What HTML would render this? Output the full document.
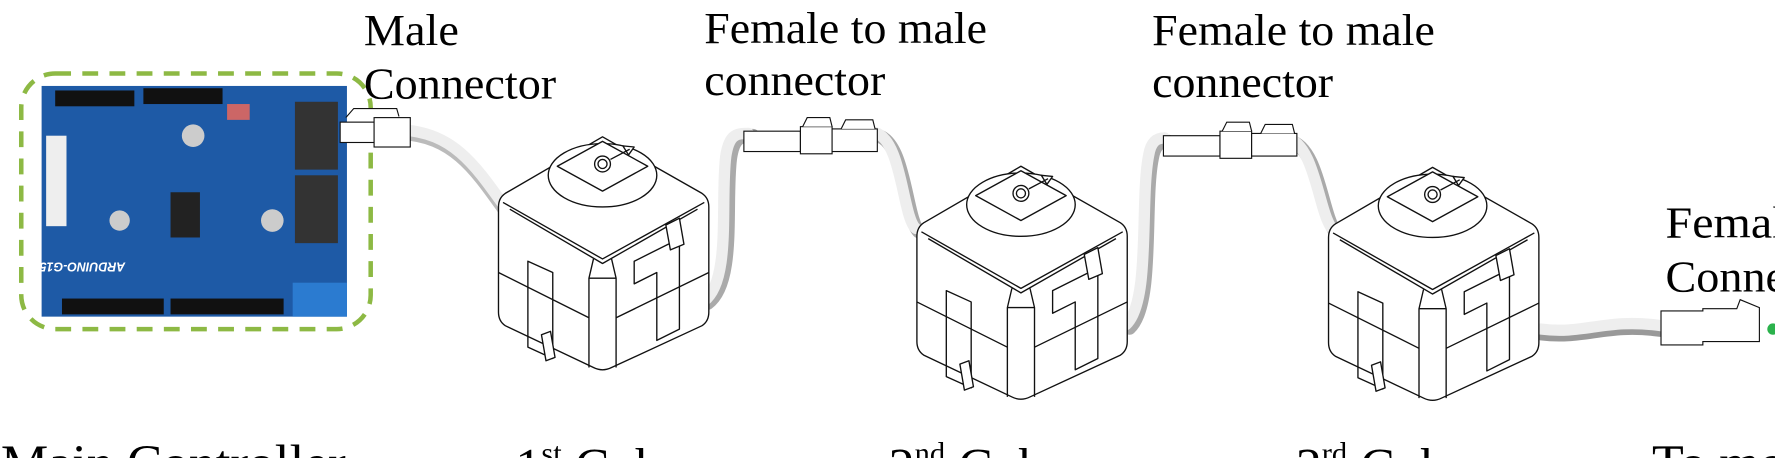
<!DOCTYPE html>
<html><head><meta charset="utf-8"><style>
html,body{margin:0;padding:0;background:#fff;overflow:hidden;width:1775px;height:458px}
svg{display:block}
text{font-family:"Liberation Serif",serif;fill:#000}
</style></head><body>
<svg width="1775" height="458" viewBox="0 0 1568 405" xmlns="http://www.w3.org/2000/svg" overflow="hidden">
<defs>
<g id="cube" fill="#fff" stroke="#111" stroke-width="1.2" stroke-linejoin="round">
  <path d="M92,0 L180,50 Q186,54 186,62 L186,155 Q186,163 180,167 L100,204 Q92,208 84,204 L6,167 Q0,163 0,155 L0,62 Q0,54 6,50 Z"/>
  <path d="M4,58 L92,108 L182,58" fill="none"/>
  <path d="M10,64 L92,112 L176,64" fill="none"/>
  <path d="M84,108 L80,125 L80,204 M100,108 L104,125 L104,204" fill="none"/>
  <path d="M80,125 L104,125" fill="none"/>
  <path d="M0,120 L80,160 M104,160 L186,120" fill="none"/>
  <ellipse cx="92" cy="34" rx="48" ry="28"/>
  <path d="M52,26 L92,48 L132,26 L92,4 Z"/>
  <circle cx="92" cy="24" r="7"/><circle cx="92" cy="24" r="4"/>
  <path d="M99,20 L116,11 M110,8 L120,9 L115,16 Z"/>
  <path d="M26,110 L48,120 L48,196 L26,186 Z" fill="none"/>
  <path d="M120,110 L160,90 L160,170 L140,180 L140,120 L120,130 Z" fill="none"/>
  <path d="M148,78 L160,72 L164,95 L152,100 Z"/>
  <path d="M38,175 L46,172 L50,195 L42,198 Z"/>
</g>
<g id="m2f" fill="#fff" stroke="#111" stroke-width="1">
  <rect x="0" y="8" width="50" height="18"/>
  <rect x="50" y="4" width="28" height="24"/>
  <path d="M52,4 L56,-4 L76,-4 L78,4"/>
  <rect x="78" y="6" width="40" height="20"/>
  <path d="M86,6 L90,-2 L114,-2 L116,6"/>
</g>
</defs>

<g fill="none" stroke-linecap="round">
  <path d="M355,118 C400,120 420,150 445,185" stroke="#bbb" stroke-width="12"/>
  <path d="M355,115 C400,117 420,147 445,182" stroke="#eee" stroke-width="10"/>
  <path d="M625,268 C650,250 640,180 645,140 C648,120 655,120 665,120" stroke="#aaa" stroke-width="12"/>
  <path d="M622,266 C646,248 636,178 641,138 C644,118 651,118 661,118" stroke="#eee" stroke-width="10"/>
  <path d="M775,120 C800,125 800,195 812,205" stroke="#aaa" stroke-width="12"/>
  <path d="M772,117 C797,122 797,192 809,202" stroke="#eee" stroke-width="10"/>
  <path d="M998,290 C1020,270 1010,180 1018,140 C1020,128 1025,125 1032,125" stroke="#aaa" stroke-width="12"/>
  <path d="M995,287 C1017,267 1007,177 1015,137 C1017,125 1022,122 1029,122" stroke="#eee" stroke-width="10"/>
  <path d="M1140,125 C1165,130 1168,190 1180,205" stroke="#aaa" stroke-width="12"/>
  <path d="M1137,122 C1162,127 1165,187 1177,202" stroke="#eee" stroke-width="10"/>
  <path d="M1362,295 C1400,300 1420,285 1468,292" stroke="#999" stroke-width="12"/>
  <path d="M1362,291 C1400,296 1420,281 1468,288" stroke="#eee" stroke-width="10"/>
</g>

<g>
  <rect x="36" y="76" width="270" height="204" fill="#1e5aa6"/>
  <rect x="48" y="80" width="70" height="14" fill="#111"/>
  <rect x="126" y="78" width="70" height="14" fill="#111"/>
  <rect x="54" y="264" width="90" height="14" fill="#111"/>
  <rect x="150" y="264" width="100" height="14" fill="#111"/>
  <rect x="260" y="90" width="38" height="60" fill="#333"/>
  <rect x="260" y="155" width="38" height="60" fill="#333"/>
  <rect x="40" y="120" width="18" height="80" fill="#eee"/>
  <rect x="150" y="170" width="26" height="40" fill="#222"/>
  <circle cx="170" cy="120" r="10" fill="#ccc"/>
  <circle cx="240" cy="195" r="10" fill="#ccc"/>
  <circle cx="105" cy="195" r="9" fill="#ccc"/>
  <rect x="258" y="250" width="48" height="30" fill="#2b7bd0"/>
  <rect x="200" y="92" width="20" height="14" fill="#c66"/>
  <text x="110" y="240" font-size="11" style="fill:#fff;font-family:'Liberation Sans',sans-serif;font-style:italic;font-weight:bold" transform="rotate(180 110 236)">ARDUINO-G15</text>
</g>
<rect x="18" y="65" width="309" height="226" rx="30" fill="none" stroke="#8db944" stroke-width="4" stroke-dasharray="14,10"/>

<g fill="#fff" stroke="#111" stroke-width="1">
  <rect x="300" y="108" width="30" height="18"/>
  <rect x="330" y="104" width="32" height="26"/>
  <path d="M305,104 L312,96 L350,96 L352,103"/>
</g>
<use href="#m2f" x="657" y="108"/>
<use href="#m2f" x="1028" y="112"/>
<g fill="#fff" stroke="#111" stroke-width="1">
  <path d="M1468,275 L1505,275 L1505,273 L1535,273 L1538,265 L1555,272 L1555,302 L1505,302 L1505,305 L1468,305 Z"/>
</g>
<circle cx="1567" cy="291" r="5" fill="#2bb24c"/>

<use href="#cube" x="440" y="121"/>
<use href="#cube" x="810" y="147"/>
<use href="#cube" x="1174" y="148"/>

<g font-size="39">
  <text x="321" y="40" textLength="84" lengthAdjust="spacingAndGlyphs">Male</text>
  <text x="321" y="87" textLength="170" lengthAdjust="spacingAndGlyphs">Connector</text>
  <text x="622" y="38" textLength="250" lengthAdjust="spacingAndGlyphs">Female to male</text>
  <text x="622" y="84" textLength="160" lengthAdjust="spacingAndGlyphs">connector</text>
  <text x="1018" y="40" textLength="250" lengthAdjust="spacingAndGlyphs">Female to male</text>
  <text x="1018" y="86" textLength="160" lengthAdjust="spacingAndGlyphs">connector</text>
  <text x="1472" y="210" textLength="125" lengthAdjust="spacingAndGlyphs">Female</text>
  <text x="1472" y="258" textLength="170" lengthAdjust="spacingAndGlyphs">Connector</text>
</g>
<g font-size="46">
  <text x="0" y="425" textLength="305" lengthAdjust="spacingAndGlyphs">Main Controller</text>
  <text x="455" y="428">1<tspan font-size="27" dy="-18">st</tspan><tspan dy="18"> Cube</tspan></text>
  <text x="785" y="428">2<tspan font-size="27" dy="-18">nd</tspan><tspan dy="18"> Cube</tspan></text>
  <text x="1145" y="428">3<tspan font-size="27" dy="-18">rd</tspan><tspan dy="18"> Cube</tspan></text>
  <text x="1460" y="425">To more</text>
</g>
</svg>
</body></html>
